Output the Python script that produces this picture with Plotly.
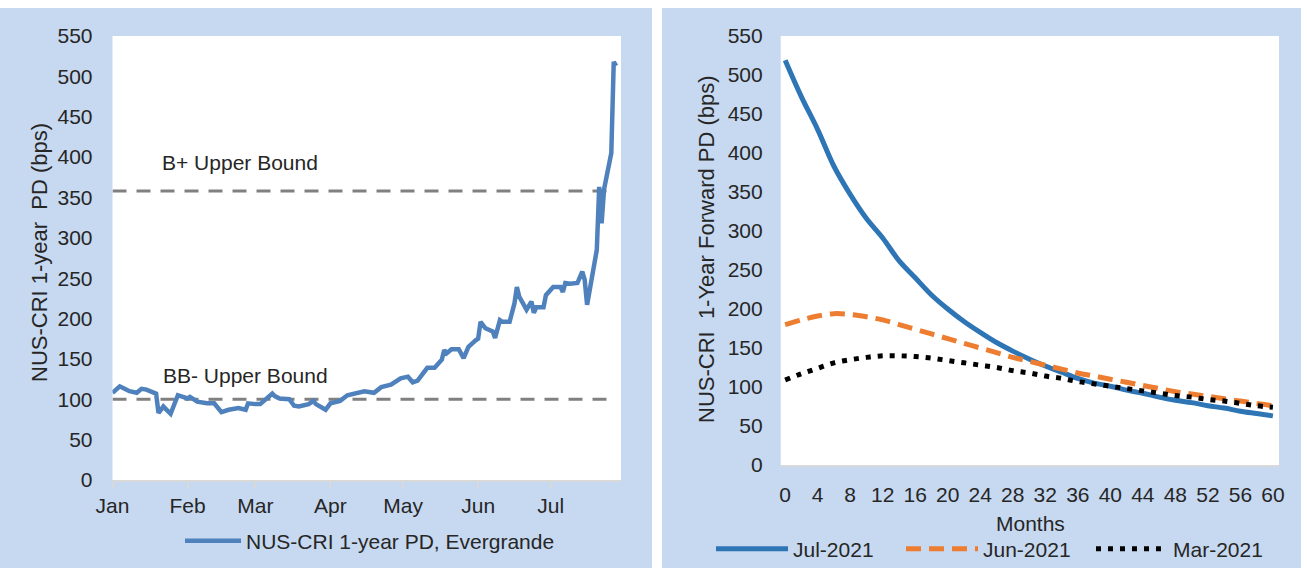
import plotly.graph_objects as go

# ---------------- data: left chart (NUS-CRI 1-year PD, Evergrande, 2021) ----------------
pd_dates = [
    "2021-01-01", "2021-01-04", "2021-01-06", "2021-01-08", "2021-01-11", "2021-01-13",
    "2021-01-15", "2021-01-18", "2021-01-19", "2021-01-20", "2021-01-21", "2021-01-22",
    "2021-01-25", "2021-01-26", "2021-01-28", "2021-02-01", "2021-02-02", "2021-02-05",
    "2021-02-09", "2021-02-12", "2021-02-15", "2021-02-18", "2021-02-22", "2021-02-25",
    "2021-02-26", "2021-03-01", "2021-03-03", "2021-03-08", "2021-03-09", "2021-03-11",
    "2021-03-15", "2021-03-17", "2021-03-19", "2021-03-23", "2021-03-25", "2021-03-26",
    "2021-03-30", "2021-04-01", "2021-04-05", "2021-04-08", "2021-04-13", "2021-04-15",
    "2021-04-19", "2021-04-22", "2021-04-26", "2021-04-30", "2021-05-03", "2021-05-05",
    "2021-05-07", "2021-05-11", "2021-05-14", "2021-05-17", "2021-05-18", "2021-05-19",
    "2021-05-21", "2021-05-24", "2021-05-26", "2021-05-28", "2021-05-31", "2021-06-01",
    "2021-06-02", "2021-06-04", "2021-06-07", "2021-06-08", "2021-06-10", "2021-06-11",
    "2021-06-14", "2021-06-16", "2021-06-17", "2021-06-18", "2021-06-21", "2021-06-23",
    "2021-06-24", "2021-06-25", "2021-06-28", "2021-06-29", "2021-07-02", "2021-07-05",
    "2021-07-06", "2021-07-07", "2021-07-09", "2021-07-12", "2021-07-14", "2021-07-15",
    "2021-07-16", "2021-07-19", "2021-07-20", "2021-07-21", "2021-07-22", "2021-07-23",
    "2021-07-26", "2021-07-27", "2021-07-28",
]
pd_values = [
    108, 116, 113, 110, 108, 113,
    112, 108, 107, 83, 87, 91,
    82, 91, 105, 101, 103, 97,
    95, 95, 84, 87, 89, 87,
    95, 94, 94, 107, 104, 101,
    100, 92, 91, 94, 98, 94,
    87, 95, 98, 105, 109, 110,
    108, 115, 118, 126, 128, 121,
    123, 139, 139, 149, 161, 157,
    162, 162, 151, 165, 173, 175,
    196, 188, 184, 176, 198, 196,
    196, 219, 239, 227, 211, 221,
    207, 214, 214, 229, 239, 239,
    233, 244, 243, 244, 258, 248,
    217, 264, 285, 363, 318, 360,
    405, 518, 513,
]
bb_minus_bound = 100
b_plus_bound = 358
month_ticks = ["2021-01-01", "2021-02-01", "2021-03-01", "2021-04-01",
               "2021-05-01", "2021-06-01", "2021-07-01"]
month_labels = ["Jan", "Feb", "Mar", "Apr", "May", "Jun", "Jul"]

# ---------------- data: right chart (1-year forward PD term structure) ----------------
months = [0, 2, 4, 6, 8, 10, 12, 14, 16, 18, 20, 22, 24, 26, 28, 30,
          32, 34, 36, 38, 40, 42, 44, 46, 48, 50, 52, 54, 56, 58, 60]
jul_2021 = [519, 472, 430, 383, 347, 316, 291, 262, 240, 218, 200, 184, 170, 157, 146, 136,
            127, 119, 111, 105, 101, 96, 92, 87, 83, 80, 76, 73, 69, 66, 63]
jun_2021 = [180, 186, 191, 194, 193, 190, 186, 180, 174, 168, 162, 156, 150, 144, 138, 133,
            128, 123, 118, 114, 110, 106, 102, 98, 94, 91, 88, 85, 82, 79, 76]
mar_2021 = [109, 117, 124, 131, 135, 138, 140, 140, 139, 137, 134, 131, 128, 125, 121, 118,
            114, 111, 107, 104, 101, 98, 95, 92, 89, 87, 84, 82, 79, 76, 74]
month_tickvals = list(range(0, 61, 4))

# ---------------- styling ----------------
W, H = 1307, 575
FONT = "Liberation Sans, Arial, sans-serif"
TXT = "#262626"
FS = 21
FS_TITLE = 22
PANEL = "#C6D9F0"
AXIS_LINE = "#D9D9D9"


def px_x(p):
    return p / W


def px_y(p):
    return 1 - p / H


fig = go.Figure()

# left chart traces
fig.add_trace(go.Scatter(
    x=[pd_dates[0], pd_dates[-1]], y=[b_plus_bound, b_plus_bound],
    mode="lines", line=dict(color="#808080", width=3, dash="14px,10px"),
    showlegend=False, hoverinfo="skip", xaxis="x", yaxis="y"))
fig.add_trace(go.Scatter(
    x=[pd_dates[0], pd_dates[-1]], y=[bb_minus_bound, bb_minus_bound],
    mode="lines", line=dict(color="#808080", width=3, dash="14px,10px"),
    showlegend=False, hoverinfo="skip", xaxis="x", yaxis="y"))
fig.add_trace(go.Scatter(
    x=pd_dates, y=pd_values, mode="lines", name="NUS-CRI 1-year PD, Evergrande",
    line=dict(color="#4F81BD", width=4.5), xaxis="x", yaxis="y", legend="legend"))

# right chart traces
fig.add_trace(go.Scatter(
    x=months, y=jul_2021, mode="lines", name="Jul-2021", line_shape="spline",
    line=dict(color="#2E75B6", width=5), xaxis="x2", yaxis="y2", legend="legend2"))
fig.add_trace(go.Scatter(
    x=months, y=jun_2021, mode="lines", name="Jun-2021", line_shape="spline",
    line=dict(color="#ED7D31", width=5, dash="15px,8px"), xaxis="x2", yaxis="y2",
    legend="legend2"))
fig.add_trace(go.Scatter(
    x=months, y=mar_2021, mode="lines", name="Mar-2021", line_shape="spline",
    line=dict(color="#000000", width=5, dash="5px,7px"), xaxis="x2", yaxis="y2",
    legend="legend2"))

tickfont = dict(family=FONT, size=FS, color=TXT)


def white_strip(x0, x1, y0, y1):
    return dict(type="rect", xref="paper", yref="paper", layer="below",
                x0=px_x(x0), x1=px_x(x1), y0=px_y(y1), y1=px_y(y0),
                fillcolor="white", line=dict(width=0))


fig.update_layout(
    width=W, height=H,
    margin=dict(l=0, r=0, t=0, b=0, pad=0, autoexpand=False),
    paper_bgcolor=PANEL, plot_bgcolor="white",
    font=dict(family=FONT, size=FS, color=TXT),
    xaxis=dict(domain=[px_x(112.5), px_x(621)], anchor="y",
               type="date", range=["2021-01-01", "2021-07-30"],
               tickmode="array", tickvals=month_ticks, ticktext=month_labels,
               ticks="outside", ticklen=6, tickwidth=1.5, tickcolor=AXIS_LINE,
               showline=True, linecolor=AXIS_LINE, linewidth=2,
               showgrid=False, zeroline=False, tickfont=tickfont,
               ticklabelstandoff=0, automargin=False),
    yaxis=dict(domain=[px_y(480), px_y(36)], anchor="x",
               range=[0, 550], dtick=50, tick0=0,
               showgrid=False, zeroline=False, showline=False,
               tickfont=tickfont, ticklabelstandoff=19, automargin=False),
    xaxis2=dict(domain=[px_x(780.7), px_x(1279)], anchor="y2",
                range=[-0.55, 60.75], tickmode="array", tickvals=month_tickvals,
                showline=True, linecolor=AXIS_LINE, linewidth=2,
                showgrid=False, zeroline=False, ticks="", tickfont=tickfont,
                ticklabelstandoff=10, automargin=False),
    yaxis2=dict(domain=[px_y(465), px_y(36)], anchor="x2",
                range=[0, 550], dtick=50, tick0=0,
                showgrid=False, zeroline=False, showline=False,
                tickfont=tickfont, ticklabelstandoff=17, automargin=False),
    legend=dict(orientation="h", x=px_x(370), xanchor="center",
                y=px_y(541), yanchor="middle", bgcolor="rgba(0,0,0,0)",
                font=dict(family=FONT, size=FS, color=TXT), itemwidth=56),
    legend2=dict(orientation="h", x=px_x(996), xanchor="center",
                 y=px_y(549), yanchor="middle", bgcolor="rgba(0,0,0,0)",
                 font=dict(family=FONT, size=FS, color=TXT), itemwidth=72,
                 entrywidth=103),
    shapes=[
        white_strip(0, W, 0, 8),
        white_strip(0, W, 568, H),
        white_strip(652, 662, 0, H),
        white_strip(1301, W, 0, H),
    ],
    annotations=[
        dict(text="NUS-CRI 1-year\u00a0 PD (bps)", textangle=-90, xref="paper", yref="paper",
             x=px_x(40), y=px_y(253), xanchor="center", yanchor="middle",
             showarrow=False, font=dict(family=FONT, size=FS_TITLE, color=TXT)),
        dict(text="NUS-CRI\u00a0 1-Year Forward PD (bps)", textangle=-90, xref="paper", yref="paper",
             x=px_x(706), y=px_y(249), xanchor="center", yanchor="middle",
             showarrow=False, font=dict(family=FONT, size=FS_TITLE, color=TXT)),
        dict(text="Months", xref="paper", yref="paper",
             x=px_x(1030), y=px_y(523), xanchor="center", yanchor="middle",
             showarrow=False, font=dict(family=FONT, size=FS, color=TXT)),
        dict(text="B+ Upper Bound", xref="paper", yref="paper",
             x=px_x(160), y=px_y(162), xanchor="left", yanchor="middle",
             showarrow=False, font=dict(family=FONT, size=FS, color=TXT)),
        dict(text="BB- Upper Bound", xref="paper", yref="paper",
             x=px_x(161), y=px_y(375), xanchor="left", yanchor="middle",
             showarrow=False, font=dict(family=FONT, size=FS, color=TXT)),
    ],
)

fig.write_html("out.html", config={"displayModeBar": False},
               post_script="document.body.style.margin='0px';")
